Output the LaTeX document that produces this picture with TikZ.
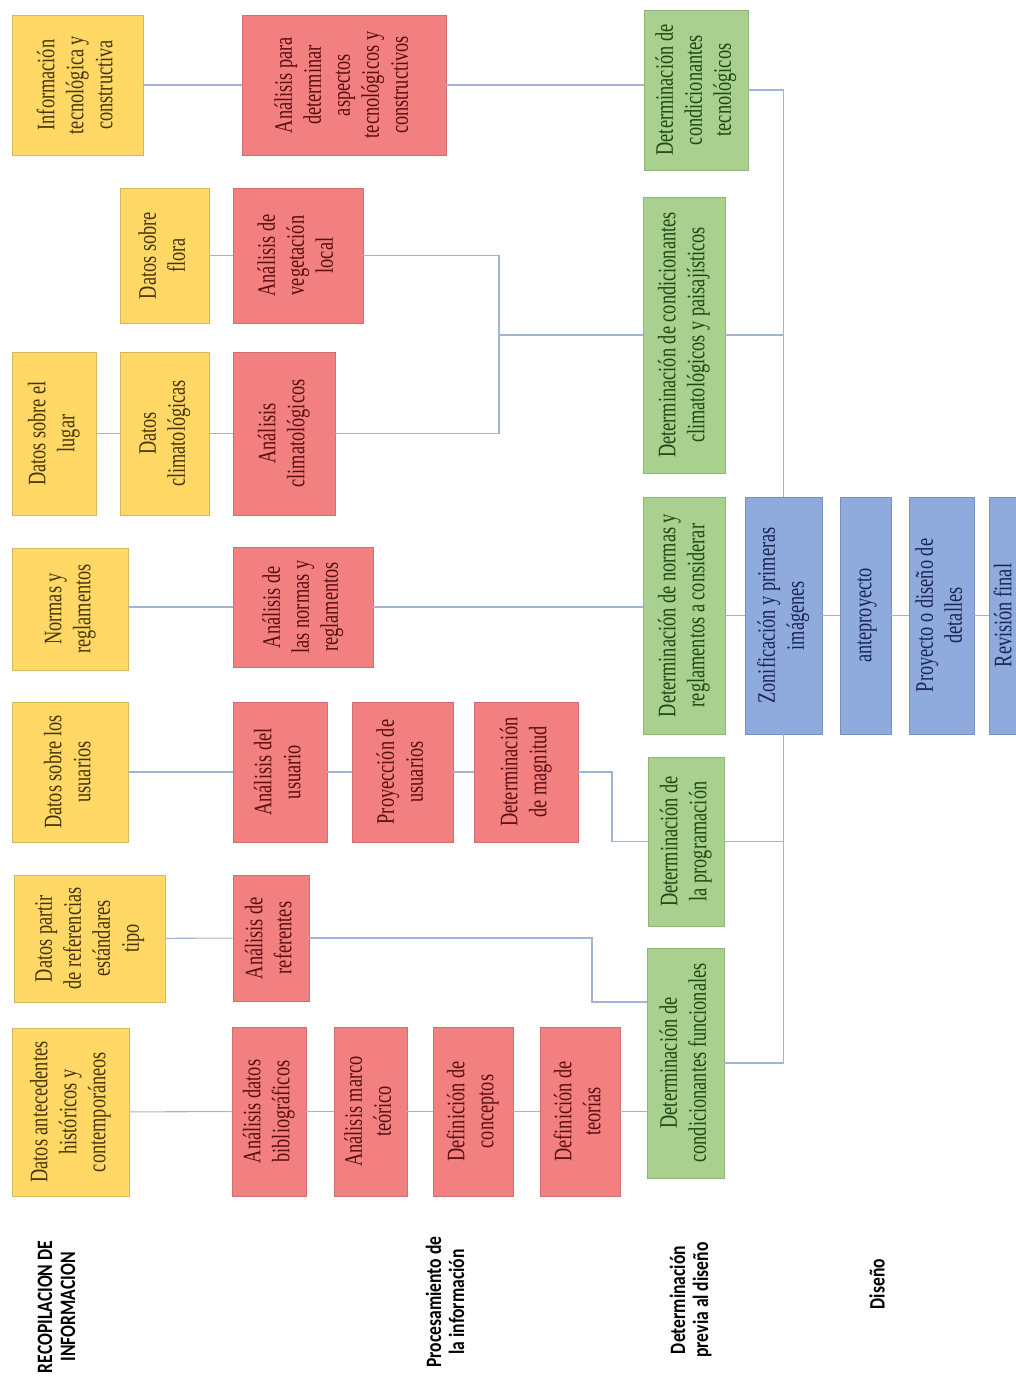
\documentclass[tikz,border=0pt]{standalone}
\usepackage{fontspec}
\usepackage{graphicx}
\setmainfont{Liberation Serif}[FakeStretch=0.73]
\newfontfamily\stagefont{Carlito}[FakeStretch=0.8]

\definecolor{yfill}{RGB}{255,216,102}
\definecolor{ydraw}{RGB}{214,184,96}
\definecolor{ytext}{RGB}{70,52,8}
\definecolor{rfill}{RGB}{243,128,128}
\definecolor{rdraw}{RGB}{206,112,112}
\definecolor{rtext}{RGB}{88,14,14}
\definecolor{gfill}{RGB}{169,208,142}
\definecolor{gdraw}{RGB}{142,182,120}
\definecolor{gtext}{RGB}{28,72,18}
\definecolor{bfill}{RGB}{143,170,220}
\definecolor{bdraw}{RGB}{120,144,190}
\definecolor{btext}{RGB}{24,38,82}
\definecolor{linecol}{RGB}{160,180,212}

% text turned a quarter to the left, lines centred
\newcommand{\uptext}[1]{\rotatebox{90}{\begin{tabular}{@{}c@{}}#1\end{tabular}}}

\tikzset{
    sz/.style 2 args = {minimum width = #1*0.02cm, minimum height = #2*0.02cm},
    box/.style = {inner sep = 0pt, line width = 0.5pt, font = \fontsize{14.3}{16.5}\selectfont},
    ybox/.style = {box, draw = ydraw, fill = yfill, text = ytext},
    rbox/.style = {box, draw = rdraw, fill = rfill, text = rtext},
    gbox/.style = {box, draw = gdraw, fill = gfill, text = gtext},
    bbox/.style = {box, draw = bdraw, fill = bfill, text = btext},
    link/.style = {draw = linecol, line width = 0.6pt},
    stage/.style = {inner sep = 0pt, font = \stagefont\bfseries\fontsize{12.5}{13.2}\selectfont}
}

\begin{document}
\begin{tikzpicture}[x = 0.02cm, y = -0.02cm]
            \useasboundingbox (0, 0) rectangle (1016, 1376);
            \clip (0, 0) rectangle (1016, 1376);

            % Gathered data (yellow)
            \node[ybox, sz = {131}{140}] (infotec) at (77.5, 85) {\uptext{Información\\tecnológica y\\constructiva}};
            \node[ybox, sz = {89}{135}] (flora) at (164.5, 255.5) {\uptext{Datos sobre\\flora}};
            \node[ybox, sz = {84}{163}] (lugar) at (54, 433.5) {\uptext{Datos sobre el\\lugar}};
            \node[ybox, sz = {89}{163}] (clima) at (164.5, 433.5) {\uptext{Datos\\climatológicas}};
            \node[ybox, sz = {116}{122}] (normas) at (70, 609) {\uptext{Normas y\\reglamentos}};
            \node[ybox, sz = {116}{140}] (usuarios) at (70, 772) {\uptext{Datos sobre los\\usuarios}};
            \node[ybox, sz = {151}{127}] (refs) at (89.5, 938.5) {\uptext{Datos partir\\de referencias\\estándares\\tipo}};
            \node[ybox, sz = {117}{168}] (antec) at (70.5, 1112) {\uptext{Datos antecedentes\\históricos y\\contemporáneos}};

            % Processing (red)
            \node[rbox, sz = {204}{140}] (antec_tec) at (344, 85) {\uptext{Análisis para\\determinar\\aspectos\\tecnológicos y\\constructivos}};
            \node[rbox, sz = {130}{135}] (an_veg) at (298, 255.5) {\uptext{Análisis de\\vegetación\\local}};
            \node[rbox, sz = {102}{163}] (an_clima) at (284, 433.5) {\uptext{Análisis\\climatológicos}};
            \node[rbox, sz = {140}{120}] (an_normas) at (303, 607) {\uptext{Análisis de\\las normas y\\reglamentos}};
            \node[rbox, sz = {94}{140}] (an_usuario) at (280, 772) {\uptext{Análisis del\\usuario}};
            \node[rbox, sz = {101}{140}] (proyeccion) at (402.5, 772) {\uptext{Proyección de\\usuarios}};
            \node[rbox, sz = {104}{140}] (magnitud) at (526, 772) {\uptext{Determinación\\de magnitud}};
            \node[rbox, sz = {76}{126}] (an_refs) at (271, 938) {\uptext{Análisis de\\referentes}};
            \node[rbox, sz = {74}{169}] (an_biblio) at (269, 1111.5) {\uptext{Análisis datos\\bibliográficos}};
            \node[rbox, sz = {73}{169}] (marco) at (370.5, 1111.5) {\uptext{Análisis marco\\teórico}};
            \node[rbox, sz = {80}{169}] (conceptos) at (473, 1111.5) {\uptext{Definición de\\conceptos}};
            \node[rbox, sz = {80}{169}] (teorias) at (580, 1111.5) {\uptext{Definición de\\teorías}};

            % Before the design (green)
            \node[gbox, sz = {104}{160}] (det_tec) at (696, 90) {\uptext{Determinación de\\condicionantes\\tecnológicos}};
            \node[gbox, sz = {82}{276}] (det_clima) at (684, 335) {\uptext{Determinación de condicionantes\\climatológicos y paisajísticos}};
            \node[gbox, sz = {82}{237}] (det_normas) at (684, 615.5) {\uptext{Determinación de normas y\\reglamentos a considerar}};
            \node[gbox, sz = {76}{169}] (det_prog) at (686, 841.5) {\uptext{Determinación de\\la programación}};
            \node[gbox, sz = {77}{230}] (det_func) at (685.5, 1063) {\uptext{Determinación de\\condicionantes funcionales}};

            % Design (blue)
            \node[bbox, sz = {77}{237}] (zonas) at (783.5, 615.5) {\uptext{Zonificación y primeras\\imágenes}};
            \node[bbox, sz = {51}{237}] (antep) at (865.5, 615.5) {\uptext{anteproyecto}};
            \node[bbox, sz = {65}{237}] (detalles) at (941.5, 615.5) {\uptext{Proyecto o diseño de\\detalles}};
            \node[bbox, sz = {33}{237}] (revision) at (1005.5, 615.5) {\uptext{Revisión final}};

            % Stage names
            \node[stage] (st_recop) at (59, 1307) {\uptext{RECOPILACION DE\\INFORMACION}};
            \node[stage] (st_proc) at (448, 1302) {\uptext{Procesamiento de\\la información}};
            \node[stage] (st_prev) at (692, 1300) {\uptext{Determinación\\previa al diseño}};
            \node[stage] (st_dis) at (880, 1284) {\uptext{Diseño}};

            % Joints
            \coordinate (cjoin) at (499, 335);
            \coordinate (pjoin) at (612, 841.5);
            \coordinate (fjoin) at (592, 1002);

            % Connectors
            \draw[link] (infotec) -- (antec_tec);
            \draw[link] (antec_tec.east) -- (antec_tec.east -| det_tec.west);
            \draw[link] (flora) -- (an_veg);
            \draw[link] (an_veg.east) -- (an_veg.east -| cjoin) -- (an_clima.east -| cjoin) -- (an_clima.east);
            \draw[link] (cjoin) -- (det_clima.west);
            \draw[link] (lugar) -- (clima);
            \draw[link] (clima) -- (an_clima);
            \draw[link] (an_normas.west) -- (an_normas.west -| normas.east);
            \draw[link] (an_normas.east) -- (an_normas.east -| det_normas.west);
            \draw[link] (usuarios) -- (an_usuario);
            \draw[link] (an_usuario) -- (proyeccion);
            \draw[link] (proyeccion) -- (magnitud);
            \draw[link] (magnitud.east) -| (pjoin) -- (det_prog.west);
            \draw[link] (refs) -- (an_refs);
            \draw[link] (an_refs.east) -| (fjoin) -- (fjoin -| det_func.west);
            \draw[link] (antec) -- (an_biblio);
            \draw[link] (an_biblio) -- (marco);
            \draw[link] (marco) -- (conceptos);
            \draw[link] (conceptos) -- (teorias);
            \draw[link] (teorias.east) -- (teorias.east -| det_func.west);

            % Trunk into the design
            \draw[link] (det_tec.east) -| (zonas.north);
            \draw[link] (det_clima.east) -- (det_clima.east -| zonas.north);
            \draw[link] (det_normas) -- (zonas);
            \draw[link] (det_prog.east) -- (det_prog.east -| zonas.south);
            \draw[link] (det_func.east) -| (zonas.south);
            \draw[link] (zonas) -- (antep);
            \draw[link] (antep) -- (detalles);
            \draw[link] (detalles) -- (revision);
\end{tikzpicture}
\end{document}
